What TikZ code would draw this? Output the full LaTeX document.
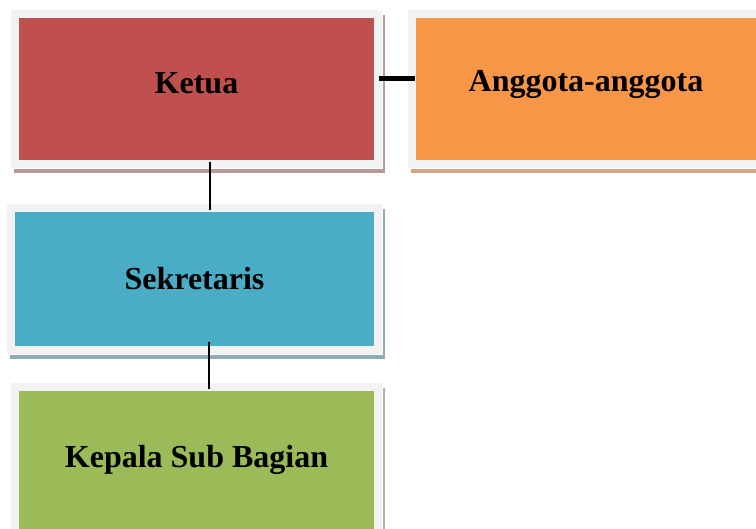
\documentclass[tikz,border=0pt]{standalone}
\usepackage{fontspec}
\setmainfont{Liberation Serif}
\definecolor{framegray}{HTML}{F2F2F2}
\definecolor{ketuafill}{HTML}{C0504D}
\definecolor{ketuashade}{HTML}{B99898}
\definecolor{anggotafill}{HTML}{F79646}
\definecolor{anggotashade}{HTML}{D4A583}
\definecolor{sekfill}{HTML}{4BACC6}
\definecolor{sekshade}{HTML}{8EABBA}
\definecolor{kepalafill}{HTML}{9BBB59}
\definecolor{kepalashade}{HTML}{B2B597}

\begin{document}
\begin{tikzpicture}[x=1pt,y=-1pt]
        \useasboundingbox (0,0) rectangle (756,529);
        \begin{scope}[every node/.style={draw=framegray, line width=8pt, inner sep=0pt, outer sep=0pt, text depth=0pt, font=\bfseries\fontsize{32}{38}\selectfont},
                        orgbox/.style 2 args={fill=#1,
                                preaction={draw=#2, fill=#2, line width=8pt, transform canvas={xshift=3pt, yshift=-5pt}},
                                preaction={draw=white, line width=9.5pt}},
                        every path/.style={black, line width=1.6pt}]
                \node[orgbox={ketuafill}{ketuashade}, minimum width=363pt, minimum height=150pt, text height=10pt] (Ketua) at (196.5,89) {Ketua};
                \node[orgbox={anggotafill}{anggotashade}, minimum width=348pt, minimum height=150pt, text height=6pt] (Anggota) at (586,89) {Anggota-anggota};
                \node[orgbox={sekfill}{sekshade}, minimum width=367pt, minimum height=142pt, text height=22pt] (Sekretaris) at (194.5,279) {Sekretaris};
                \node[orgbox={kepalafill}{kepalashade}, minimum width=363pt, minimum height=150pt, text height=12pt] (Kepala) at (196.5,462) {Kepala Sub Bagian};

                \draw[line width=5.5pt, shorten <=1pt, shorten >=-3pt] ([yshift=10.3pt]Ketua.east) -- ([yshift=10.3pt]Ketua.east -| Anggota.west);
                \draw[shorten <=-2pt, shorten >=-2pt] ([xshift=13.5pt]Ketua.south) -- ([xshift=13.5pt]Ketua.south |- Sekretaris.north);
                \draw[shorten <=-8pt, shorten >=-2pt] ([xshift=14.5pt]Sekretaris.south) -- ([xshift=14.5pt]Sekretaris.south |- Kepala.north);
        \end{scope}
\end{tikzpicture}
\end{document}
